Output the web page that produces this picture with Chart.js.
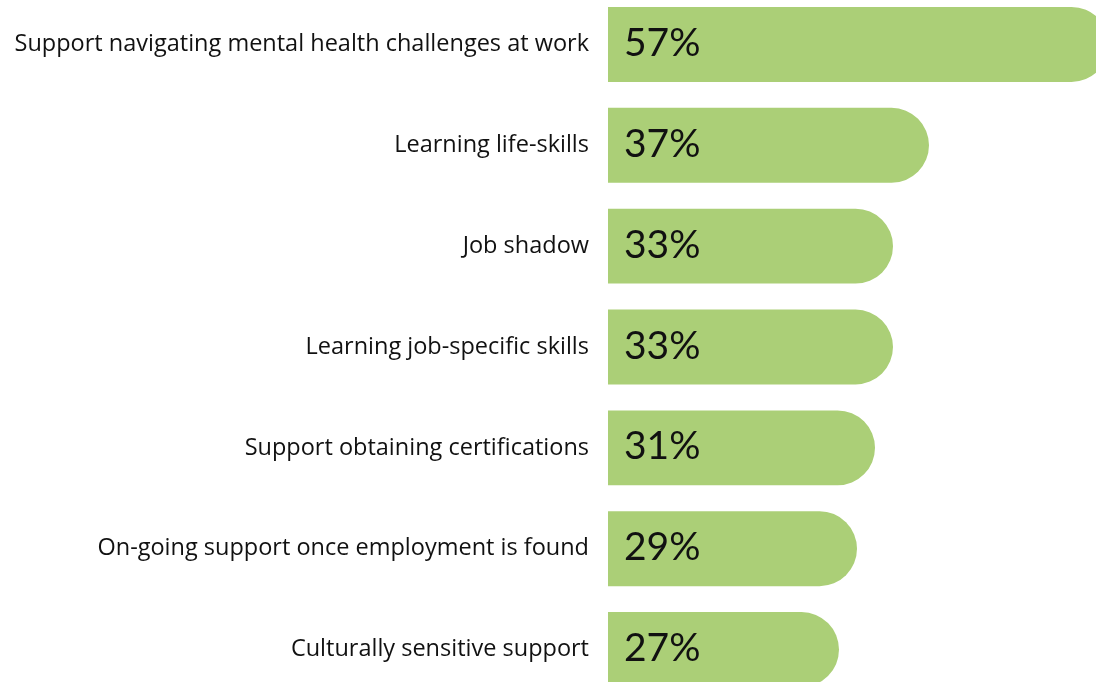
<!DOCTYPE html>
<html>
<head>
<meta charset="utf-8">
<script src="https://cdn.jsdelivr.net/npm/chart.js@4.4.1/dist/chart.umd.min.js"></script>
<style>
  html, body { margin: 0; padding: 0; background: #ffffff; overflow: hidden; }
  #chart { position: absolute; left: 0; top: -6px; }
</style>
</head>
<body>
<canvas id="chart" width="1096" height="706"></canvas>
<script>
const categories = [
  'Support navigating mental health challenges at work',
  'Learning life-skills',
  'Job shadow',
  'Learning job-specific skills',
  'Support obtaining certifications',
  'On-going support once employment is found',
  'Culturally sensitive support'
];
const shares = [57, 37, 33, 33, 31, 29, 27];
const valueLabels = ['57%', '37%', '33%', '33%', '31%', '29%', '27%'];

const BAR_GREEN = '#abcf77';
const LABEL_FONT = '"Open Sans", Lato, sans-serif';
const VALUE_FONT = 'Lato, "Open Sans", sans-serif';

// Writes each share inside its bar, just after the bar's left edge
const insideLabels = {
  id: 'insideLabels',
  afterDatasetsDraw(chart) {
    const ctx = chart.ctx;
    const meta = chart.getDatasetMeta(0);
    const left = chart.chartArea.left;
    ctx.save();
    ctx.font = '39px ' + VALUE_FONT;
    ctx.fillStyle = '#111111';
    ctx.textAlign = 'left';
    ctx.textBaseline = 'middle';
    meta.data.forEach((bar, i) => {
      ctx.fillText(valueLabels[i], left + 16, bar.y - 1);
    });
    ctx.restore();
  }
};

new Chart(document.getElementById('chart'), {
  type: 'bar',
  data: {
    labels: categories,
    datasets: [{
      data: shares,
      backgroundColor: BAR_GREEN,
      borderWidth: 0,
      borderSkipped: 'start',
      borderRadius: { topLeft: 0, bottomLeft: 0, topRight: 999, bottomRight: 999 },
      barPercentage: 0.743,
      categoryPercentage: 1
    }]
  },
  options: {
    indexAxis: 'y',
    responsive: false,
    animation: false,
    layout: { padding: 0 },
    plugins: { legend: { display: false }, tooltip: { enabled: false } },
    scales: {
      x: {
        display: false,
        min: 4 / 3,
        max: 4 / 3 + 488 / 9
      },
      y: {
        grid: { display: false, drawTicks: false },
        border: { display: false },
        afterFit(scale) {
          // fixed label column; bars use the full height
          scale.width = 608;
          scale.paddingTop = 0;
          scale.paddingBottom = 0;
        },
        ticks: {
          padding: 19,
          color: '#111111',
          font: { family: LABEL_FONT, size: 23.5 }
        }
      }
    }
  },
  plugins: [insideLabels]
});
</script>
</body>
</html>
